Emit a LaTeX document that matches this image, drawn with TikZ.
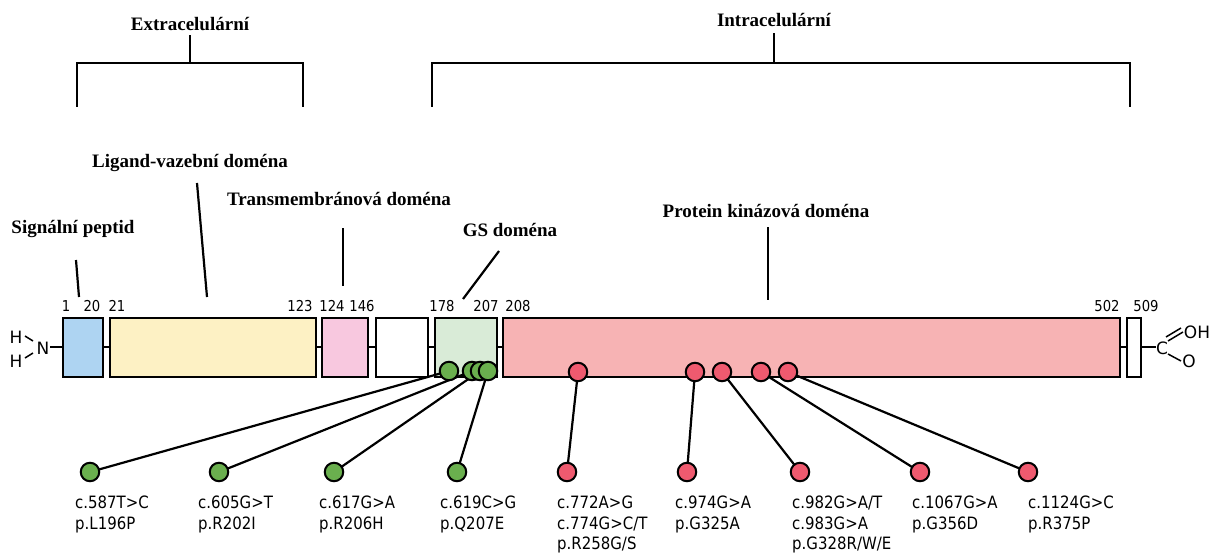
\documentclass[tikz,border=0pt]{standalone}
\usepackage{fontspec}
\setmainfont{Liberation Serif}
\newfontfamily\lblfont[FakeStretch=0.88]{DejaVu Sans}
\newfontfamily\chemfont{DejaVu Sans}
\definecolor{cblue}{HTML}{AED4F2}
\definecolor{cyellow}{HTML}{FDF1C4}
\definecolor{cpink}{HTML}{F8C8DF}
\definecolor{cgreen}{HTML}{D9EBD7}
\definecolor{cred}{HTML}{F7B3B4}
\definecolor{mgreen}{HTML}{6AAF4E}
\definecolor{mred}{HTML}{EF5A6F}
\pgfdeclarelayer{back}
\pgfdeclarelayer{mid}
\pgfsetlayers{back,mid,main}
\begin{document}
\begin{tikzpicture}[x=1pt,y=-1pt,
  dom/.style={draw, line width=2.5pt, inner sep=0pt, minimum height=59pt},
  gmut/.style={circle, draw, line width=2pt, fill=mgreen, minimum size=18.5pt, inner sep=0pt},
  rmut/.style={circle, draw, line width=2pt, fill=mred, minimum size=18.5pt, inner sep=0pt},
  title/.style={font=\fontsize{19}{22}\selectfont\bfseries, inner sep=0pt},
  num/.style={font=\lblfont\fontsize{15}{17}\selectfont, inner sep=0pt},
  chem/.style={font=\chemfont\fontsize{17}{19}\selectfont, inner sep=0pt},
  mlab/.style={font=\lblfont\fontsize{17}{20.5}\selectfont, align=left, anchor=north west, inner sep=0pt},
  bond/.style={line width=1.5pt},
  leader/.style={line width=2.2pt},
  conn/.style={line width=2.2pt}
]
\useasboundingbox (0,0) rectangle (1220,556);

% titles and brackets
\node[title] (ext) at (190,24) {Extracelulární};
\node[title] (int) at (774,20) {Intracelulární};
\coordinate (extL) at (77,107);
\coordinate (extR) at (303,107);
\coordinate (extM) at (190,63);
\coordinate (intL) at (432,107);
\coordinate (intR) at (1130,107);
\coordinate (intM) at (774,63);
\draw[leader] (extL) -- (77,63) -- (303,63) -- (extR);
\draw[leader] (extM) -- (190,35);
\draw[leader] (intL) -- (432,63) -- (1130,63) -- (intR);
\draw[leader] (intM) -- (774,33);

% domain labels
\node[title] (lsp) at (73,229) {Signální peptid};
\node[title] (llig) at (190,163) {Ligand-vazební doména};
\node[title] (ltm) at (339,199) {Transmembránová doména};
\node[title] (lgs) at (510,230) {GS doména};
\node[title] (lpk) at (766,211) {Protein kinázová doména};
\coordinate (psp) at (79,297);
\coordinate (plig) at (207,297);
\coordinate (ptm) at (343,286);
\coordinate (pgs) at (463,299);
\coordinate (ppk) at (768,300);
\draw[leader] (76,260) -- (psp);
\draw[leader] (197,183) -- (plig);
\draw[leader] (343,228) -- (ptm);
\draw[leader] (499,251) -- (pgs);
\draw[leader] (768,227) -- (ppk);

% backbone and domains
\begin{pgfonlayer}{back}
\coordinate (nstart) at (50,347);
\coordinate (cend) at (1156,347);
\draw[line width=2.2pt] (nstart) -- (cend);
\node[dom, fill=cblue, minimum width=40pt] (sp) at (83,347.5) {};
\node[dom, fill=cyellow, minimum width=206pt] (lig) at (213,347.5) {};
\node[dom, fill=cpink, minimum width=46pt] (tm) at (345,347.5) {};
\node[dom, fill=white, minimum width=52pt] (wb) at (402,347.5) {};
\node[dom, fill=cgreen, minimum width=62pt] (gs) at (466,347.5) {};
\node[dom, fill=cred, minimum width=617pt] (pk) at (811.5,347.5) {};
\node[dom, fill=white, minimum width=14pt] (ct) at (1134,347.5) {};
\end{pgfonlayer}

% residue numbers
\node[num] (n1) at (66,306) {1};
\node[num] (n20) at (92,306) {20};
\node[num] (n21) at (117,306) {21};
\node[num] (n123) at (300,306) {123};
\node[num] (n124) at (332,306) {124};
\node[num] (n146) at (362,306) {146};
\node[num] (n178) at (442,306) {178};
\node[num] (n207) at (486,306) {207};
\node[num] (n208) at (518,306) {208};
\node[num] (n502) at (1107,306) {502};
\node[num] (n509) at (1146,306) {509};

% N terminus
\node[chem] (h1) at (16,337) {H};
\node[chem] (h2) at (16,361) {H};
\node[chem] (nn) at (43,348) {N};
\draw[bond] (25,336) -- (33,341);
\draw[bond] (25,358) -- (33,353);

% C terminus
\node[chem] (cc) at (1162,348) {C};
\node[chem] (oh) at (1197,332) {OH};
\node[chem] (oo) at (1189,361) {O};
\draw[bond] (1168,341) -- (1183,332);
\draw[bond] (1166,337) -- (1181,328);
\draw[bond] (1168,354) -- (1181,361);

% mutation sites on protein
\node[gmut] (g1) at (449,371) {};
\node[gmut] (g2) at (472,371) {};
\node[gmut] (g3) at (480,371) {};
\node[gmut] (g4) at (488,371) {};
\node[rmut] (r1) at (578,372) {};
\node[rmut] (r2) at (695,372) {};
\node[rmut] (r3) at (722,372) {};
\node[rmut] (r4) at (761,372) {};
\node[rmut] (r5) at (788,372) {};

% lower mutation markers
\node[gmut] (G1) at (90,472) {};
\node[gmut] (G2) at (219,472) {};
\node[gmut] (G3) at (334,472) {};
\node[gmut] (G4) at (457,472) {};
\node[rmut] (R1) at (567,472) {};
\node[rmut] (R2) at (687,472) {};
\node[rmut] (R3) at (800,472) {};
\node[rmut] (R4) at (920,472) {};
\node[rmut] (R5) at (1028,472) {};

\begin{pgfonlayer}{mid}
\draw[conn] (g1.center) -- (G1.center);
\draw[conn] (g2.center) -- (G2.center);
\draw[conn] (g3.center) -- (G3.center);
\draw[conn] (g4.center) -- (G4.center);
\draw[conn] (r1.center) -- (R1.center);
\draw[conn] (r2.center) -- (R2.center);
\draw[conn] (r3.center) -- (R3.center);
\draw[conn] (r4.center) -- (R4.center);
\draw[conn] (r5.center) -- (R5.center);
\end{pgfonlayer}

% mutation labels
\node[mlab] (t1) at (75,496) {c.587T>C\\p.L196P};
\node[mlab] (t2) at (198,496) {c.605G>T\\p.R202I};
\node[mlab] (t3) at (319,496) {c.617G>A\\p.R206H};
\node[mlab] (t4) at (440,496) {c.619C>G\\p.Q207E};
\node[mlab] (t5) at (557,496) {c.772A>G\\c.774G>C/T\\p.R258G/S};
\node[mlab] (t6) at (675,496) {c.974G>A\\p.G325A};
\node[mlab] (t7) at (792,496) {c.982G>A/T\\c.983G>A\\p.G328R/W/E};
\node[mlab] (t8) at (912,496) {c.1067G>A\\p.G356D};
\node[mlab] (t9) at (1028,496) {c.1124G>C\\p.R375P};
\end{tikzpicture}
\end{document}
